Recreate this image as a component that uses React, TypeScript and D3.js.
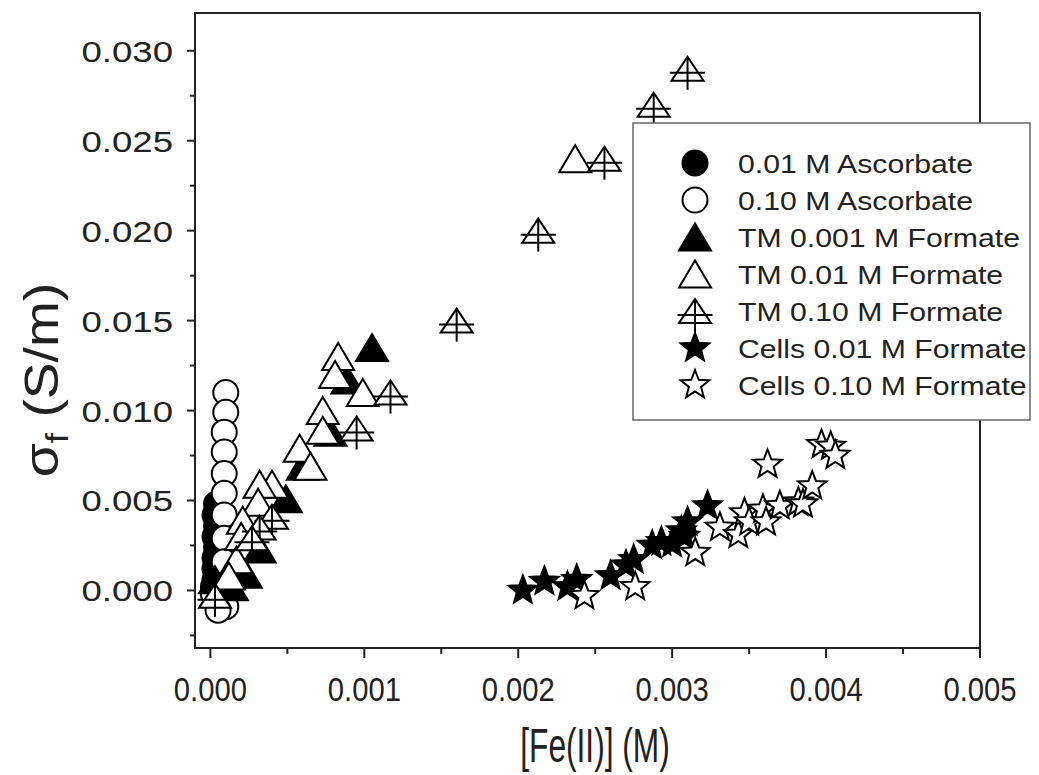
import React from "react";
import * as d3 from "d3";

// [Fe(II)] (M) , sigma_f (S/m)
const ascorbate001: [number, number][] = [
  [0.00004, 0.0048], [0.00003, 0.0042], [0.00004, 0.0036], [0.00003, 0.003],
  [0.00004, 0.0024], [0.00003, 0.0018], [0.00003, 0.0012], [0.00003, 0.0006], [0.00002, 0.0002],
];
const ascorbate010: [number, number][] = [
  [0.0001, 0.011], [0.0001, 0.0099], [0.00009, 0.0088], [0.00009, 0.0077],
  [0.00009, 0.0065], [0.00009, 0.0054], [0.00009, 0.0042], [0.00009, 0.0029],
  [0.00009, 0.0016], [0.00002, -0.0002], [0.00006, -0.0006], [0.0001, -0.0009], [0.00005, -0.0011],
];
const tm0001: [number, number][] = [
  [0.00003, 0.0006], [0.00014, 0.0002], [0.00023, 0.0009], [0.00032, 0.0023],
  [0.00049, 0.0051], [0.0006, 0.0069], [0.00078, 0.0088], [0.00089, 0.0117], [0.00105, 0.0135],
];
const tm001: [number, number][] = [
  [0.00237, 0.024], [0.00083, 0.013], [0.00081, 0.012], [0.00099, 0.011],
  [0.00073, 0.01], [0.00073, 0.0089], [0.00058, 0.0079], [0.00065, 0.0069],
  [0.0004, 0.0059], [0.00032, 0.0059], [0.00031, 0.0049], [0.00021, 0.0039],
  [0.0002, 0.003], [0.00017, 0.0017], [0.00012, 0.0008],
];
const tm010: [number, number][] = [
  [0.0031, 0.029], [0.00288, 0.027], [0.00256, 0.024], [0.00213, 0.02],
  [0.0016, 0.015], [0.00117, 0.011], [0.00095, 0.009], [0.0004, 0.0041],
  [0.00032, 0.0035], [0.00027, 0.0029], [0.00003, -0.0003],
];
const cells001: [number, number][] = [
  [0.00203, 0.0], [0.00217, 0.0005], [0.00232, 0.0002], [0.00238, 0.0006],
  [0.0026, 0.0008], [0.0027, 0.0014], [0.00275, 0.0017], [0.00287, 0.0025],
  [0.00293, 0.0027], [0.003, 0.0026], [0.00308, 0.003], [0.00306, 0.0033],
  [0.0031, 0.0038], [0.00323, 0.0047],
];
const cells010: [number, number][] = [
  [0.00243, -0.0003], [0.00276, 0.0002], [0.00315, 0.0021], [0.00331, 0.0035],
  [0.00343, 0.0031], [0.00347, 0.0043], [0.0035, 0.0038], [0.00359, 0.0045],
  [0.00361, 0.0038], [0.00362, 0.007], [0.0037, 0.0047], [0.00382, 0.0049],
  [0.00385, 0.0048], [0.00391, 0.0058], [0.00397, 0.0081], [0.00403, 0.008], [0.00406, 0.0075],
];

const seriesNames = [
  "0.01 M Ascorbate",
  "0.10 M Ascorbate",
  "TM 0.001 M Formate",
  "TM 0.01 M Formate",
  "TM 0.10 M Formate",
  "Cells 0.01 M Formate",
  "Cells 0.10 M Formate",
];
const seriesData = [ascorbate001, ascorbate010, tm0001, tm001, tm010, cells001, cells010];
const seriesShapes = ["circleFill", "circle", "triFill", "tri", "triPlus", "starFill", "star"];

const xTicks = [0, 0.001, 0.002, 0.003, 0.004, 0.005];
const xTickLabels = ["0.000", "0.001", "0.002", "0.003", "0.004", "0.005"];
const yTicks = [0, 0.005, 0.01, 0.015, 0.02, 0.025, 0.03];
const yTickLabels = ["0.000", "0.005", "0.010", "0.015", "0.020", "0.025", "0.030"];

const W = 1039, H = 775;
const left = 195, right = 980, top = 13, bottom = 648;
const FONT = "'Liberation Sans', Arial, sans-serif";

const x = d3.scaleLinear().domain([-0.0001, 0.005]).range([left, right]);
const y = d3.scaleLinear().domain([-0.0032, 0.0321]).range([bottom, top]);

function starPath(R: number, r: number) {
  const pts: string[] = [];
  for (let i = 0; i < 10; i++) {
    const a = (Math.PI / 5) * i - Math.PI / 2;
    const rr = i % 2 === 0 ? R : r;
    pts.push(`${(Math.cos(a) * rr).toFixed(2)},${(Math.sin(a) * rr).toFixed(2)}`);
  }
  return "M" + pts.join("L") + "Z";
}
const STAR = starPath(15, 6.4);
const TRI = "M0,-13.5L16,13.5L-16,13.5Z";
const TRI_P = "M0,-12L16,12L-16,12Z";

function Marker({ shape, cx, cy }: { shape: string; cx: number; cy: number }) {
  const sw = 2;
  const t = `translate(${cx},${cy})`;
  switch (shape) {
    case "circleFill":
      return <circle cx={cx} cy={cy} r={12.5} fill="#000" stroke="#000" strokeWidth={sw} />;
    case "circle":
      return <circle cx={cx} cy={cy} r={12.5} fill="#fff" stroke="#000" strokeWidth={sw} />;
    case "triFill":
      return <path transform={t} d={TRI} fill="#000" stroke="#000" strokeWidth={sw} />;
    case "tri":
      return <path transform={t} d={TRI} fill="#fff" stroke="#000" strokeWidth={sw} />;
    case "triPlus":
      return (
        <g transform={t}>
          <path d={TRI_P} fill="#fff" stroke="#000" strokeWidth={sw} />
          <line x1={-17.5} x2={17.5} y1={4} y2={4} stroke="#000" strokeWidth={sw} />
          <line x1={0} x2={0} y1={-12} y2={21} stroke="#000" strokeWidth={sw} />
        </g>
      );
    case "starFill":
      return <path transform={t} d={STAR} fill="#000" stroke="#000" strokeWidth={sw} />;
    default:
      return <path transform={t} d={STAR} fill="#fff" stroke="#000" strokeWidth={sw} />;
  }
}

export default function App() {
  const xMinor = d3.range(0.0005, 0.005, 0.001);
  const yMinor = d3.range(-0.0025, 0.031, 0.005);

  return (
    <svg width={W} height={H} style={{ position: "absolute", left: 0, top: 0, background: "#fff" }}>
      <rect width={W} height={H} fill="#fff" />

      {/* markers, series order = drawing order */}
      <g>
        {seriesData.map((data, si) =>
          data.map((d, i) => <Marker key={si + "-" + i} shape={seriesShapes[si]} cx={x(d[0])} cy={y(d[1])} />)
        )}
      </g>

      {/* frame */}
      <rect x={left} y={top} width={right - left} height={bottom - top} fill="none" stroke="#222" strokeWidth={2} />

      {/* x axis */}
      <g stroke="#222" strokeWidth={2}>
        {xTicks.map((t) => <line key={t} x1={x(t)} x2={x(t)} y1={bottom} y2={bottom + 10} />)}
        {xMinor.map((t) => <line key={t} x1={x(t)} x2={x(t)} y1={bottom} y2={bottom + 6} />)}
      </g>
      {xTicks.map((t, i) => (
        <text key={t} transform={`translate(${x(t)},701) scale(0.86,1)`} textAnchor="middle"
          fontFamily={FONT} fontSize={34} fill="#222">{xTickLabels[i]}</text>
      ))}
      <text transform={`translate(595,762) scale(0.66,1)`} textAnchor="middle" fontFamily={FONT} fontSize={48} fill="#222">
        [Fe(II)] (M)
      </text>

      {/* y axis */}
      <g stroke="#222" strokeWidth={2}>
        {yTicks.map((t) => <line key={t} x1={left - 8} x2={left} y1={y(t)} y2={y(t)} />)}
        {yMinor.map((t) => <line key={t} x1={left - 5} x2={left} y1={y(t)} y2={y(t)} />)}
      </g>
      {yTicks.map((t, i) => (
        <text key={t} transform={`translate(173,${y(t) + 11}) scale(1.22,1)`} textAnchor="end"
          fontFamily={FONT} fontSize={30} fill="#222">{yTickLabels[i]}</text>
      ))}
      <text transform={`translate(58,380) rotate(-90) scale(1.15,1)`} textAnchor="middle" fontFamily={FONT} fontSize={48} fill="#222">
        σ<tspan fontSize={32} dy={10}>f</tspan><tspan dy={-10}> (S/m)</tspan>
      </text>

      {/* legend */}
      <g>
        <rect x={633} y={123} width={397} height={297} fill="#fff" stroke="#666" strokeWidth={1.5} />
        {seriesNames.map((name, i) => {
          const ly = 163 + i * 37;
          return (
            <g key={name}>
              <Marker shape={seriesShapes[i]} cx={695} cy={ly} />
              <text transform={`translate(738,${ly + 9.5}) scale(1.14,1)`} fontFamily={FONT} fontSize={26.5} fill="#222">{name}</text>
            </g>
          );
        })}
      </g>
    </svg>
  );
}
